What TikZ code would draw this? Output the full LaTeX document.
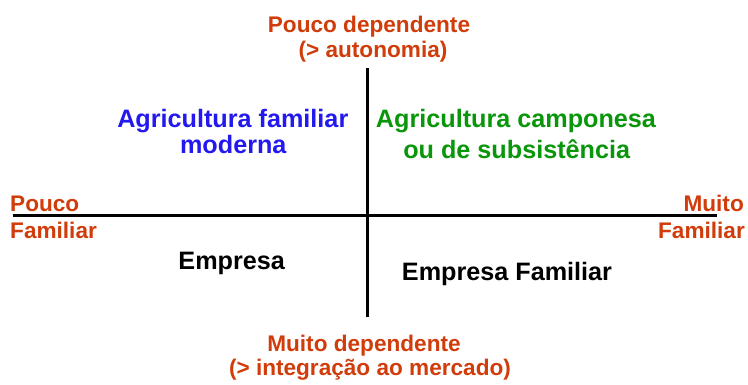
\documentclass[tikz,border=0pt]{standalone}
\usepackage{fontspec}
\setmainfont{Liberation Sans}
\definecolor{axisorange}{RGB}{208,60,10}
\definecolor{qblue}{RGB}{35,25,238}
\definecolor{qgreen}{RGB}{10,150,10}
\tikzset{
  lbl/.style={inner sep=0pt, font=\bfseries\fontsize{22.6}{27}\selectfont, text=axisorange},
  quad/.style={inner sep=0pt, font=\bfseries\fontsize{25.2}{30}\selectfont},
  axisline/.style={line width=3pt, black}
}
\begin{document}
\begin{tikzpicture}[x=1pt,y=1pt]
\useasboundingbox (0,0) rectangle (748,384);
% axes
\coordinate (hl) at (13,168.5);
\coordinate (hr) at (717,168.5);
\coordinate (vt) at (367,315.7);
\coordinate (vb) at (367,66.7);
\draw[axisline] (hl) -- (hr);
\draw[axisline] (vt) -- (vb);
% axis labels
\node[lbl, anchor=base] (top1) at (369,351.3) {Pouco dependente};
\node[lbl, anchor=base] (top2) at (373,326.7) {(> autonomia)};
\node[lbl, anchor=base] (bot1) at (364,32.3) {Muito dependente};
\node[lbl, anchor=base] (bot2) at (370,9) {(> integração ao mercado)};
\node[lbl, anchor=base west] (left1) at (10,172.3) {Pouco};
\node[lbl, anchor=base west] (left2) at (10,145.7) {Familiar};
\node[lbl, anchor=base east] (right1) at (744,172.3) {Muito};
\node[lbl, anchor=base east] (right2) at (745,145.7) {Familiar};
% quadrant labels
\node[quad, text=qblue, anchor=base] (b1) at (232.8,257) {Agricultura familiar};
\node[quad, text=qblue, anchor=base] (b2) at (233.3,230.3) {moderna};
\node[quad, text=qgreen, anchor=base] (g1) at (516,256.5) {Agricultura camponesa};
\node[quad, text=qgreen, anchor=base] (g2) at (516.7,226) {ou de subsistência};
\node[quad, text=black, anchor=base] (e1) at (231.7,114.7) {Empresa};
\node[quad, text=black, anchor=base] (e2) at (507,104) {Empresa Familiar};
\end{tikzpicture}
\end{document}
